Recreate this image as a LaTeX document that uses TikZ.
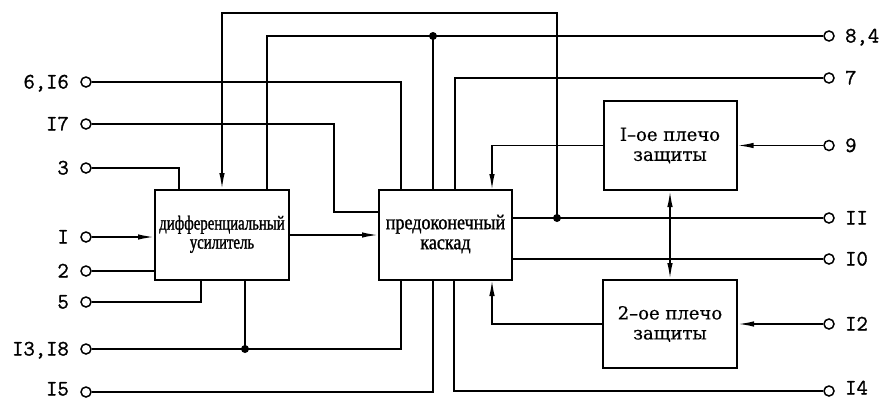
\documentclass[tikz,border=0pt]{standalone}
\usepackage{fontspec}
\setmainfont{Liberation Serif}
\newfontfamily\armfont[FakeBold=0.6]{DejaVu Serif}
\newfontfamily\pinfont[FakeBold=1.2]{Latin Modern Mono}
\newfontfamily\diffont[FakeStretch=0.74,FakeBold=1.2]{Liberation Serif}
\newfontfamily\kasfont[FakeStretch=0.86,FakeBold=1.2]{Liberation Serif}
\usetikzlibrary{arrows.meta}

\newcommand{\twolines}[2]{\raisebox{3pt}{\begin{tabular}{@{}c@{}}#1\\#2\end{tabular}}}

\begin{document}
\begin{tikzpicture}[x=1pt,y=-1pt,
  wire/.style={line width=1.6pt},
  arr/.style={wire,-{Latex[length=16pt,width=5.5pt]}},
  dbl/.style={wire,{Latex[length=16pt,width=5.5pt]}-{Latex[length=16pt,width=5.5pt]}},
  term/.style={circle,draw,line width=1.5pt,minimum size=10pt,inner sep=0pt,fill=white},
  lbl/.style={font=\pinfont\fontsize{22}{22}\selectfont,inner sep=0pt,text height=13pt,text depth=0pt},
  blk/.style={draw,line width=2pt,inner sep=0pt,align=center},
  junction/.style={circle,fill,minimum size=8pt,inner sep=0pt}]
\useasboundingbox (0,0) rectangle (884,399);

% blocks
\node[blk,minimum width=134pt,minimum height=90pt,font=\diffont\fontsize{20}{19}\selectfont] (diff) at (222,235) {\twolines{дифференциальный}{усилитель}};
\node[blk,minimum width=133pt,minimum height=90pt,font=\kasfont\fontsize{21}{20}\selectfont] (kas) at (445.5,235) {\twolines{предоконечный}{каскад}};
\node[blk,minimum width=133pt,minimum height=89pt,font=\armfont\fontsize{18}{20}\selectfont] (p1) at (670,145.5) {I–ое плечо\\защиты};
\node[blk,minimum width=134pt,minimum height=88pt,font=\armfont\fontsize{18}{20}\selectfont] (p2) at (670,324) {2–ое плечо\\защиты};

% left terminals
\node[term] (t6) at (86,82) {};
\node[term] (t17) at (86,124) {};
\node[term] (t3) at (86,168) {};
\node[term] (t1) at (86,237) {};
\node[term] (t2) at (86,271) {};
\node[term] (t5) at (86,302) {};
\node[term] (t13) at (86,349) {};
\node[term] (t15) at (86,392) {};
\node[lbl,anchor=east] (l6) at (69,82) {6,I6};
\node[lbl,anchor=east] (l17) at (69,124) {I7};
\node[lbl,anchor=east] (l3) at (69,168) {3};
\node[lbl,anchor=east] (l1) at (69,237) {I};
\node[lbl,anchor=east] (l2) at (69,271) {2};
\node[lbl,anchor=east] (l5) at (69,302) {5};
\node[lbl,anchor=east] (l13) at (69,349) {I3,I8};
\node[lbl,anchor=east] (l15) at (69,389) {I5};

% right terminals
\node[term] (t84) at (829,36) {};
\node[term] (t7) at (829,78) {};
\node[term] (t9) at (829,145.5) {};
\node[term] (t11) at (829,218) {};
\node[term] (t10) at (829,259) {};
\node[term] (t12) at (829,324) {};
\node[term] (t14) at (829,391) {};
\node[lbl,anchor=west] (l84) at (845,36) {8,4};
\node[lbl,anchor=west] (l7) at (845,78) {7};
\node[lbl,anchor=west] (l9) at (845,145.5) {9};
\node[lbl,anchor=west] (l11) at (845,218) {II};
\node[lbl,anchor=west] (l10) at (845,259) {I0};
\node[lbl,anchor=west] (l12) at (845,324) {I2};
\node[lbl,anchor=west] (l14) at (845,388) {I4};

% junction points
\node[junction] (dotII) at (557,218) {};
\node[junction] (dot84) at (433,36) {};
\node[junction] (dot13) at (245,349) {};

% entry points on the block edges and bends
\coordinate (rA) at (557,13);
\coordinate (dN1) at (179,190);
\coordinate (dN2) at (267,190);
\coordinate (dS1) at (201,280);
\coordinate (dS2) at (245,280);
\coordinate (kN1) at (401,190);
\coordinate (kN2) at (455,190);
\coordinate (kN3) at (433,190);
\coordinate (kN4) at (492,190);
\coordinate (kS1) at (401,280);
\coordinate (kS2) at (433,280);
\coordinate (kS3) at (454,280);
\coordinate (kS4) at (492,280);
\coordinate (b17) at (334,212);

% connectors
\draw[arr] (dotII.center) -- (rA) -| (diff.north);
\draw[wire] (t84) -| (dN2);
\draw[wire] (dot84.center) -- (kN3);
\draw[wire] (t6) -| (kN1);
\draw[wire] (t17) -| (b17) -- (b17 -| kas.west);
\draw[wire] (t3) -| (dN1);
\draw[arr] (t1) -- (t1 -| diff.west);
\draw[wire] (t2) -- (t2 -| diff.west);
\draw[wire] (t5) -| (dS1);
\draw[wire] (t13) -| (kS1);
\draw[wire] (dot13.center) -- (dS2);
\draw[wire] (t15) -| (kS2);
\draw[arr] (diff) -- (kas);
\draw[wire] (t7) -| (kN2);
\draw[arr] (p1.west) -| (kN4);
\draw[wire] (kas.east |- t11) -- (t11);
\draw[wire] (kas.east |- t10) -- (t10);
\draw[arr] (p2.west) -| (kS4);
\draw[wire] (kS3) |- (t14);
\draw[dbl] (p1) -- (p2);
\draw[arr] (t9) -- (p1);
\draw[arr] (t12) -- (p2);
\end{tikzpicture}
\end{document}
